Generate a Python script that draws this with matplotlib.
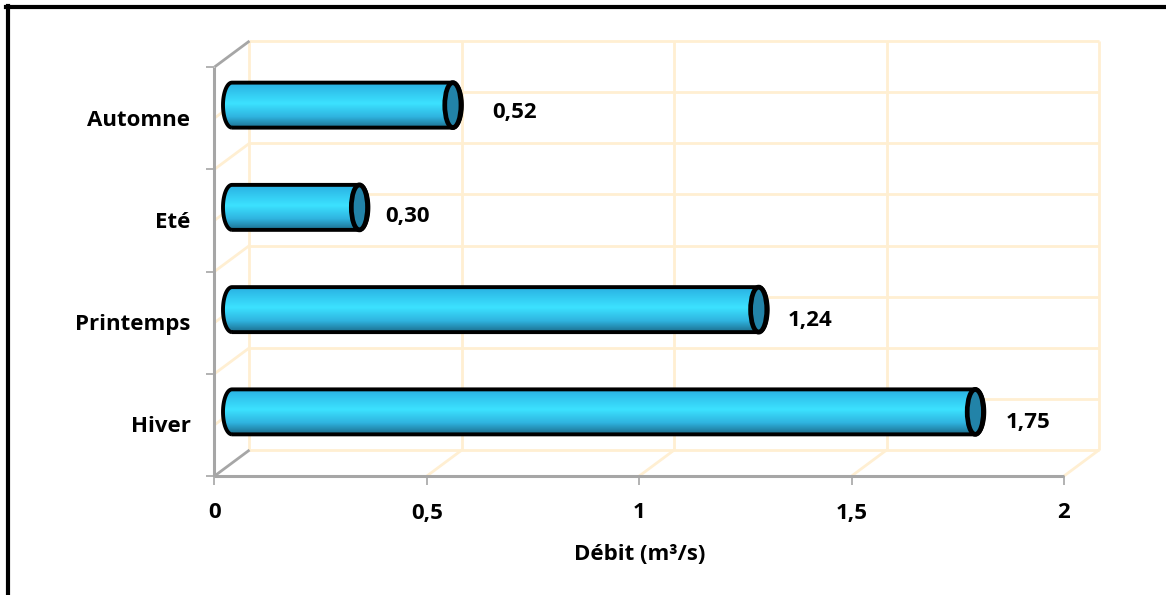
import numpy as np
import matplotlib
matplotlib.use("Agg")
import matplotlib.pyplot as plt
from matplotlib.colors import LinearSegmentedColormap
from matplotlib.patches import Ellipse, PathPatch
from matplotlib.path import Path

seasons = ["Hiver", "Printemps", "Eté", "Automne"]
debit = [1.75, 1.24, 0.30, 0.52]
debit_labels = ["1,75", "1,24", "0,30", "0,52"]
x_ticks = [0, 0.5, 1, 1.5, 2]
x_tick_labels = ["0", "0,5", "1", "1,5", "2"]

W, H = 1166, 595
X0, X1 = 214.5, 1064      # front plane, pixels
Y0, Y1 = 476, 67
PX = (X1 - X0) / 2        # pixels per m3/s
PY = (Y0 - Y1) / 4        # pixels per category
DX = 35 / PX              # depth of the fake 3D box, data units
DY = 26 / PY
RX = 9 / PX               # bar end ellipse
RY = 22.5 / PY

GRID = "#FFEFD2"
AXIS = "#A6A6A6"

plt.rcParams["font.family"] = ["Open Sans", "DejaVu Sans"]
plt.rcParams["font.weight"] = "bold"

fig = plt.figure(figsize=(W / 100, H / 100), dpi=100)
ax = fig.add_axes([X0 / W, 1 - Y0 / H, (X1 - X0) / W, (Y0 - Y1) / H])
ax.set_xlim(0, 2)
ax.set_ylim(0, 4)
ax.axis("off")

# outer frame: only left and top edges show
fig.add_artist(plt.Line2D([8 / W, 8 / W], [0, 1 - 5.5 / H], color="black", lw=3,
                          transform=fig.transFigure))
fig.add_artist(plt.Line2D([6 / W, 1], [1 - 7 / H, 1 - 7 / H], color="black", lw=3,
                          transform=fig.transFigure))


def line(xs, ys, color=GRID, lw=2, z=1):
    ax.plot(xs, ys, color=color, lw=lw, zorder=z, clip_on=False,
            solid_capstyle="butt")


# back wall
for v in x_ticks:
    line([v + DX, v + DX], [DY, 4 + DY])
    if v > 0:
        line([v, v + DX], [0, DY])
for y in np.arange(0, 4.5, 0.5):
    line([DX, 2 + DX], [y + DY, y + DY])
# side wall
for y in np.arange(0.5, 4, 0.5):
    line([0, DX], [y, y + DY])
line([0, DX], [0, DY], color=AXIS, z=2)
line([0, DX], [4, 4 + DY], color=AXIS, z=2)

# front axes
line([0, 0], [0, 4], color=AXIS, lw=2.2, z=2)
line([0, 2], [0, 0], color=AXIS, lw=2.2, z=2)
for v in x_ticks:
    line([v, v], [0, -9 / PY], color=AXIS, lw=1.2, z=2)
for y in range(5):
    line([0, -8 / PX], [y, y], color=AXIS, lw=1.2, z=2)

cyl = LinearSegmentedColormap.from_list(
    "cyl", [(0, "#2AB0E2"), (0.45, "#3CE2FF"), (0.75, "#2FB4E0"), (1, "#1C6E8E")])
ramp = np.linspace(0, 1, 128)[:, None]

t = np.linspace(np.pi / 2, -np.pi / 2, 40)
for i, val in enumerate(debit):
    xl = DX / 2
    xr = val + DX / 2
    yc = i + 0.5 + DY / 2
    # cylinder outline: left arc, top, right arc, bottom
    px = np.r_[xl - RX * np.cos(t), xr + RX * np.cos(t), xl]
    py = np.r_[yc - RY * np.sin(t), yc + RY * np.sin(t), yc - RY]
    body = Path(np.c_[px, py])
    im = ax.imshow(ramp, cmap=cyl, extent=[xl - RX, xr + RX, yc - RY, yc + RY],
                   aspect="auto", origin="upper", zorder=5)
    im.set_clip_path(PathPatch(body, transform=ax.transData))
    ax.add_patch(PathPatch(body, fc="none", ec="black", lw=2.8, zorder=6, clip_on=False))
    ax.add_patch(Ellipse((xr, yc), 2 * RX * 0.9, 2 * RY, fc="#2283A8",
                         ec="black", lw=3.4, zorder=7, clip_on=False))

ax.set_xlim(0, 2)
ax.set_ylim(0, 4)

# value labels, nudged by hand in pixels
nudges = [(53, -11), (51, -11), (48, -9), (62, -7)]
for i, (val, lab) in enumerate(zip(debit, debit_labels)):
    ax.annotate(lab, (val + DX / 2, i + 0.5 + DY / 2),
                xytext=nudges[i], textcoords="offset pixels",
                ha="center", va="center", fontsize=16, color="black",
                annotation_clip=False, zorder=8)

for v, lab in zip(x_ticks, x_tick_labels):
    ax.annotate(lab, (v, 0), xytext=(0, -37), textcoords="offset pixels",
                ha="center", va="center", fontsize=16, annotation_clip=False)
for i, lab in enumerate(seasons):
    ax.annotate(lab, (0, i + 0.5), xytext=(-24, -2), textcoords="offset pixels",
                ha="right", va="center", fontsize=16, annotation_clip=False)

ax.annotate("Débit (m³/s)", (1, 0), xytext=(0, -78),
            textcoords="offset pixels", ha="center", va="center", fontsize=16,
            annotation_clip=False)

fig.savefig("out.png", dpi=100)
